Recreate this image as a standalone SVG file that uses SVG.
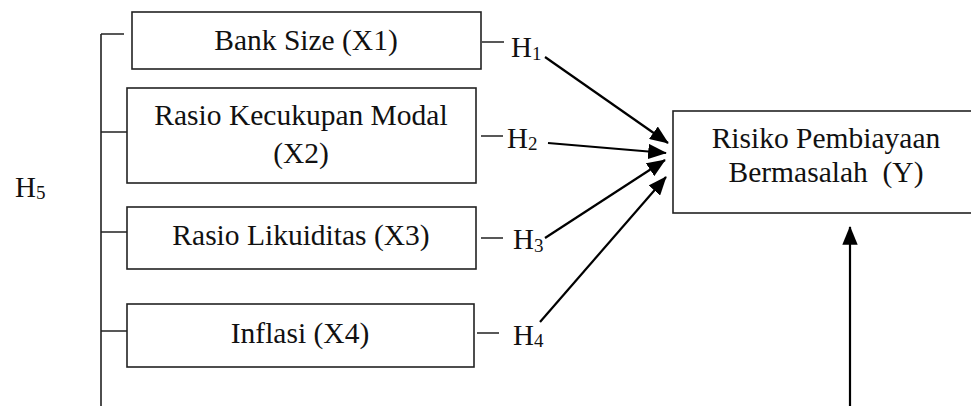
<svg xmlns="http://www.w3.org/2000/svg" width="971" height="406" viewBox="0 0 971 406">
<style>
.box{fill:#fff;stroke:#222;stroke-width:1.6}
.t{font-family:"Liberation Serif","Times New Roman",serif;font-size:29.5px;fill:#111;text-anchor:middle;white-space:pre}
.h{font-family:"Liberation Serif","Times New Roman",serif;font-size:29px;fill:#111}
.s{font-size:19px}
.ln{stroke:#222;stroke-width:1.6;fill:none}
.ar{stroke:#000;stroke-width:2.2;fill:none;marker-end:url(#ah)}
</style>
<defs>
<marker id="ah" markerWidth="8.5" markerHeight="7" refX="8.1" refY="3.5" orient="auto" markerUnits="strokeWidth">
<path d="M0,0 L8.5,3.5 L0,7 Z" fill="#000"/>
</marker>
</defs>
<g id="bracket">
<path class="ln" d="M101,34 V406 M101,34 H124 M101,132 H127 M101,232 H127 M101,331 H127"/>
</g>
<g id="x1">
<rect class="box" x="132" y="12" width="349" height="57"/>
<text class="t" x="306" y="50">Bank Size (X1)</text>
</g>
<g id="x2">
<rect class="box" x="127" y="88" width="349" height="95"/>
<text class="t" x="301" y="125">Rasio Kecukupan Modal</text>
<text class="t" x="301" y="163">(X2)</text>
</g>
<g id="x3">
<rect class="box" x="127" y="207" width="349" height="62"/>
<text class="t" x="301" y="245">Rasio Likuiditas (X3)</text>
</g>
<g id="x4">
<rect class="box" x="127" y="304" width="347" height="63"/>
<text class="t" x="300" y="343">Inflasi (X4)</text>
</g>
<g id="y">
<rect class="box" x="673" y="111" width="320" height="102"/>
<text class="t" x="826" y="148">Risiko Pembiayaan</text>
<text class="t" x="826" y="182">Bermasalah  (Y)</text>
</g>
<g id="labels">
<path class="ln" d="M482,42 H504 M481,136 H503 M481,238 H503 M477,333 H499"/>
<text class="h" x="511" y="57">H<tspan class="s" dy="3">1</tspan></text>
<text class="h" x="507" y="148">H<tspan class="s" dy="2">2</tspan></text>
<text class="h" x="513" y="249">H<tspan class="s" dy="3">3</tspan></text>
<text class="h" x="513" y="345">H<tspan class="s" dy="2">4</tspan></text>
<text class="h" x="15" y="197">H<tspan class="s" dy="2">5</tspan></text>
</g>
<g id="connectors">
<line class="ar" x1="545" y1="57" x2="668" y2="143"/>
<line class="ar" x1="548" y1="143" x2="666" y2="153"/>
<line class="ar" x1="545" y1="238" x2="665" y2="160"/>
<line class="ar" x1="540" y1="322" x2="666" y2="177"/>
<line class="ar" x1="850" y1="406" x2="850" y2="227"/>
</g>
</svg>
